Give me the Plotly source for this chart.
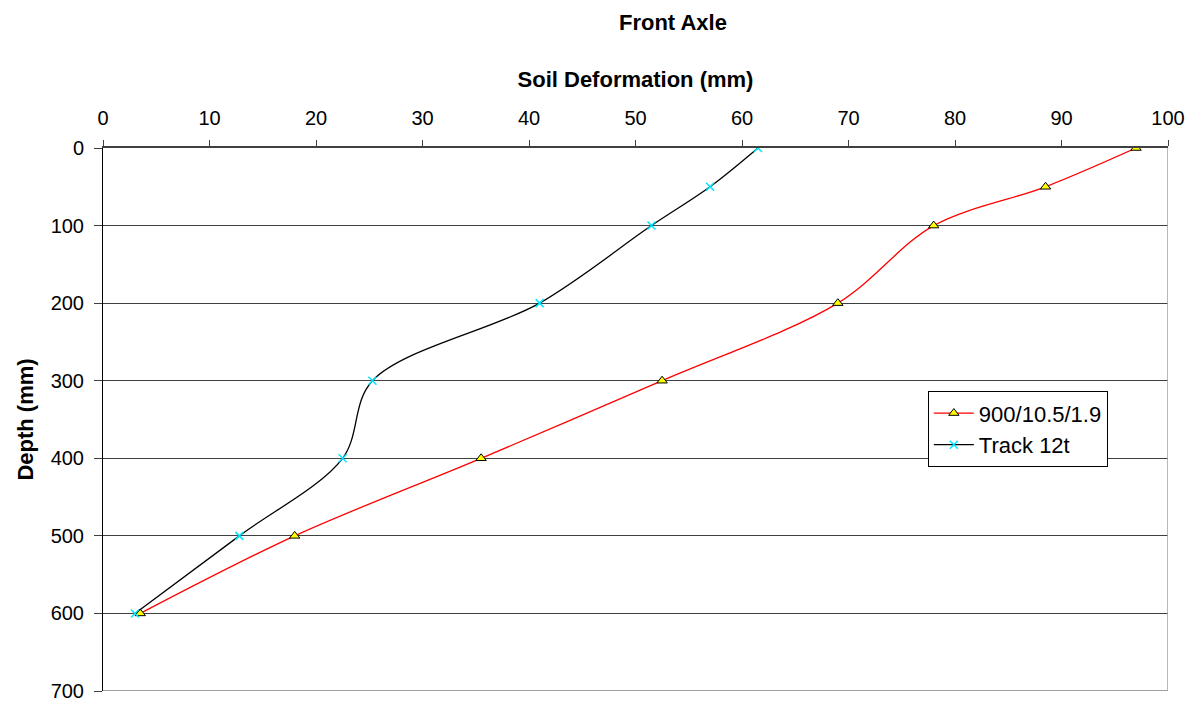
import plotly.graph_objects as go

# Depth below surface (mm)
depth = [0, 50, 100, 200, 300, 400, 500, 600]

# Soil deformation (mm) for each configuration
deform_900 = [97, 88.5, 78, 69, 52.5, 35.5, 18, 3.5]
deform_track = [61.5, 57, 51.5, 41, 25.3, 22.5, 12.8, 3]

x_ticks = [0, 10, 20, 30, 40, 50, 60, 70, 80, 90, 100]
y_ticks = [0, 100, 200, 300, 400, 500, 600, 700]

FONT = "Liberation Sans, Arial, sans-serif"
FS = 20
FS_TITLE = 22

fig = go.Figure()

fig.add_trace(go.Scatter(
    x=deform_900, y=depth, name="900/10.5/1.9",
    mode="lines+markers",
    line=dict(color="#ff0000", width=1.3, shape="spline", smoothing=0.95),
    marker=dict(symbol="triangle-up", size=9, color="#ffff00",
                line=dict(color="#000000", width=1)),
))

fig.add_trace(go.Scatter(
    x=deform_track, y=depth, name="Track 12t",
    mode="lines+markers",
    line=dict(color="#000000", width=1.3, shape="spline", smoothing=0.95),
    marker=dict(symbol="x-thin", size=8, color="#00ffff",
                line=dict(color="#00e5ff", width=1.5)),
))

fig.update_layout(
    width=1196, height=701,
    margin=dict(l=103, r=28, t=148, b=10),
    paper_bgcolor="white",
    plot_bgcolor="white",
    font=dict(family=FONT, size=FS, color="#000000"),
    title=dict(text="<b>Front Axle</b>", x=0.5627, xanchor="center",
               y=0.968, yanchor="middle", font=dict(size=FS_TITLE)),
    showlegend=True,
    legend=dict(x=0.7745, y=0.552, xanchor="left", yanchor="top",
                bgcolor="white", bordercolor="#000000", borderwidth=1,
                font=dict(size=22), tracegroupgap=0, itemwidth=40),
)

fig.update_xaxes(
    side="top", range=[0, 100], tickvals=x_ticks,
    showgrid=False, zeroline=False, automargin=False,
    showline=True, linecolor="#404040", linewidth=1.5, mirror=False,
    ticks="outside", ticklen=6, tickcolor="#404040", ticklabelstandoff=7,
    title=dict(text="<b>Soil Deformation (mm)</b>", standoff=14,
               font=dict(size=FS_TITLE)),
)

fig.update_yaxes(
    range=[700, 0], tickvals=y_ticks,
    showgrid=True, gridcolor="#404040", gridwidth=1,
    zeroline=False, automargin=False, ticklabeloverflow="allow",
    showline=True, linecolor="#000000", linewidth=1,
    ticks="outside", ticklen=8, tickcolor="#404040", ticklabelstandoff=6,
    title=dict(text="<b>Depth (mm)</b>", standoff=10, font=dict(size=FS_TITLE)),
)

# Bottom edge line at the deepest tick
fig.add_shape(type="line", xref="paper", yref="y", x0=0, x1=1, y0=700, y1=700,
              line=dict(color="#404040", width=1))

# Grey border on the right edge of the plotting area
fig.add_shape(type="line", xref="x", yref="paper", x0=100, x1=100, y0=0, y1=1,
              line=dict(color="#a0a0a0", width=1.5))

fig.write_html("out.html")
